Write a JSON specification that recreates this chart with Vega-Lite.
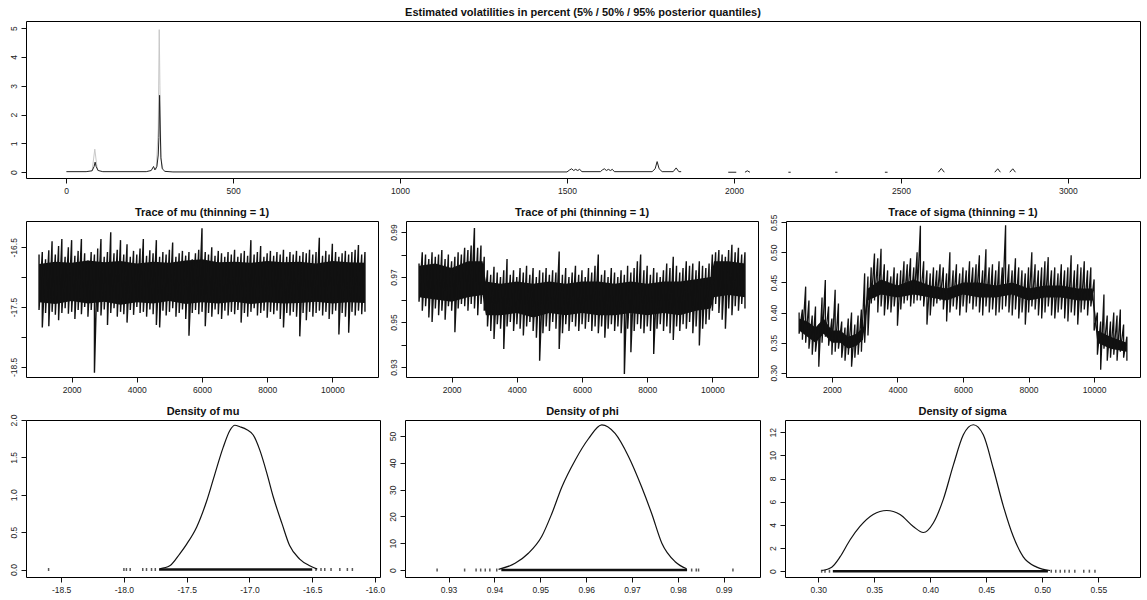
{
  "$schema": "https://vega.github.io/schema/vega-lite/v6.json",
  "padding": {"left": 8, "top": 6, "right": 4, "bottom": 4},
  "spacing": 11,
  "background": "white",
  "config": {
    "view": {"stroke": "black", "strokeWidth": 1},
    "axis": {"domain": false, "grid": false, "ticks": true, "tickColor": "#111", "tickSize": 5, "labelFont": "Liberation Sans", "labelFontSize": 8.5, "labelColor": "#222", "labelPadding": 3, "labelOverlap": false, "labelSeparation": -50},
    "axisY": {"labelAngle": -90, "labelAlign": "center", "labelBaseline": "bottom", "tickCount": 20, "labelOverlap": false},
    "title": {"font": "Liberation Sans", "fontSize": 11, "fontWeight": "bold", "color": "#111", "offset": 3}
  },
  "datasets": {
    "vol50": [
      {"t": 1, "v": 0.02, "s": 1}, {"t": 60, "v": 0.02, "s": 1}, {"t": 78, "v": 0.05, "s": 1}, {"t": 84, "v": 0.2, "s": 1}, {"t": 87, "v": 0.35, "s": 1}, {"t": 90, "v": 0.2, "s": 1}, {"t": 96, "v": 0.06, "s": 1}, {"t": 110, "v": 0.02, "s": 1}, {"t": 240, "v": 0.02, "s": 1}, {"t": 255, "v": 0.06, "s": 1}, {"t": 262, "v": 0.2, "s": 1}, {"t": 266, "v": 0.08, "s": 1}, {"t": 272, "v": 0.2, "s": 1}, {"t": 276, "v": 0.6, "s": 1}, {"t": 278, "v": 1.2, "s": 1}, {"t": 280, "v": 2.67, "s": 1}, {"t": 282, "v": 1.5, "s": 1}, {"t": 284, "v": 0.5, "s": 1}, {"t": 288, "v": 0.12, "s": 1}, {"t": 296, "v": 0.03, "s": 1}, {"t": 320, "v": 0.01, "s": 1}, {"t": 1500, "v": 0.01, "s": 1}, {"t": 1508, "v": 0.08, "s": 1}, {"t": 1514, "v": 0.12, "s": 1}, {"t": 1520, "v": 0.06, "s": 1}, {"t": 1526, "v": 0.1, "s": 1}, {"t": 1532, "v": 0.06, "s": 1}, {"t": 1538, "v": 0.1, "s": 1}, {"t": 1545, "v": 0.02, "s": 1}, {"t": 1600, "v": 0.02, "s": 1}, {"t": 1606, "v": 0.08, "s": 1}, {"t": 1612, "v": 0.12, "s": 1}, {"t": 1618, "v": 0.06, "s": 1}, {"t": 1624, "v": 0.1, "s": 1}, {"t": 1630, "v": 0.06, "s": 1}, {"t": 1636, "v": 0.1, "s": 1}, {"t": 1642, "v": 0.02, "s": 1}, {"t": 1755, "v": 0.02, "s": 1}, {"t": 1764, "v": 0.12, "s": 1}, {"t": 1770, "v": 0.37, "s": 1}, {"t": 1776, "v": 0.12, "s": 1}, {"t": 1785, "v": 0.02, "s": 1}, {"t": 1818, "v": 0.02, "s": 1}, {"t": 1827, "v": 0.15, "s": 1}, {"t": 1835, "v": 0.02, "s": 1}, {"t": 1842, "v": 0.02, "s": 1},
      {"t": 1983, "v": 0.0, "s": 2}, {"t": 2007, "v": 0.0, "s": 2},
      {"t": 2033, "v": 0.0, "s": 3}, {"t": 2040, "v": 0.05, "s": 3}, {"t": 2048, "v": 0.0, "s": 3},
      {"t": 2163, "v": 0.0, "s": 4}, {"t": 2170, "v": 0.0, "s": 4},
      {"t": 2303, "v": 0.0, "s": 5}, {"t": 2310, "v": 0.0, "s": 5},
      {"t": 2452, "v": 0.0, "s": 6}, {"t": 2460, "v": 0.0, "s": 6},
      {"t": 2612, "v": 0.0, "s": 7}, {"t": 2621, "v": 0.13, "s": 7}, {"t": 2630, "v": 0.0, "s": 7},
      {"t": 2781, "v": 0.0, "s": 8}, {"t": 2790, "v": 0.12, "s": 8}, {"t": 2798, "v": 0.0, "s": 8},
      {"t": 2826, "v": 0.0, "s": 9}, {"t": 2835, "v": 0.12, "s": 9}, {"t": 2843, "v": 0.0, "s": 9}
    ],
    "vol95": [
      {"t": 78, "v": 0.05, "s": 1}, {"t": 86, "v": 0.8, "s": 1}, {"t": 94, "v": 0.05, "s": 1},
      {"t": 270, "v": 0.1, "s": 2}, {"t": 276, "v": 1.5, "s": 2}, {"t": 279, "v": 4.95, "s": 2}, {"t": 281, "v": 3.0, "s": 2}, {"t": 284, "v": 0.5, "s": 2}, {"t": 290, "v": 0.1, "s": 2}
    ],
    "core_mu": [
      {"it": 1000, "a": -16.78, "b": -17.42}, {"it": 1500, "a": -16.74, "b": -17.45}, {"it": 2000, "a": -16.76, "b": -17.40}, {"it": 2500, "a": -16.72, "b": -17.44}, {"it": 3000, "a": -16.75, "b": -17.41}, {"it": 3500, "a": -16.73, "b": -17.46}, {"it": 4000, "a": -16.77, "b": -17.42}, {"it": 4500, "a": -16.74, "b": -17.44}, {"it": 5000, "a": -16.76, "b": -17.40}, {"it": 5500, "a": -16.72, "b": -17.45}, {"it": 6000, "a": -16.70, "b": -17.42}, {"it": 6500, "a": -16.75, "b": -17.44}, {"it": 7000, "a": -16.74, "b": -17.41}, {"it": 7500, "a": -16.76, "b": -17.45}, {"it": 8000, "a": -16.73, "b": -17.42}, {"it": 8500, "a": -16.75, "b": -17.44}, {"it": 9000, "a": -16.74, "b": -17.43}, {"it": 9500, "a": -16.77, "b": -17.41}, {"it": 10000, "a": -16.73, "b": -17.44}, {"it": 10500, "a": -16.75, "b": -17.42}, {"it": 11000, "a": -16.76, "b": -17.43}
    ],
    "core_phi": [
      {"it": 1000, "a": 0.975, "b": 0.961}, {"it": 1500, "a": 0.976, "b": 0.960}, {"it": 2000, "a": 0.974, "b": 0.959}, {"it": 2500, "a": 0.977, "b": 0.961}, {"it": 2950, "a": 0.977, "b": 0.962}, {"it": 3050, "a": 0.968, "b": 0.953}, {"it": 3500, "a": 0.967, "b": 0.953}, {"it": 4000, "a": 0.968, "b": 0.954}, {"it": 4500, "a": 0.967, "b": 0.952}, {"it": 5000, "a": 0.968, "b": 0.954}, {"it": 5500, "a": 0.967, "b": 0.953}, {"it": 6000, "a": 0.968, "b": 0.954}, {"it": 6500, "a": 0.968, "b": 0.953}, {"it": 7000, "a": 0.967, "b": 0.953}, {"it": 7500, "a": 0.968, "b": 0.954}, {"it": 8000, "a": 0.967, "b": 0.953}, {"it": 8500, "a": 0.968, "b": 0.954}, {"it": 9000, "a": 0.968, "b": 0.953}, {"it": 9500, "a": 0.969, "b": 0.955}, {"it": 9950, "a": 0.970, "b": 0.956}, {"it": 10050, "a": 0.977, "b": 0.961}, {"it": 10500, "a": 0.977, "b": 0.962}, {"it": 11000, "a": 0.976, "b": 0.961}
    ],
    "core_sigma": [
      {"it": 1000, "a": 0.39, "b": 0.37}, {"it": 1250, "a": 0.385, "b": 0.36}, {"it": 1500, "a": 0.375, "b": 0.35}, {"it": 1750, "a": 0.39, "b": 0.365}, {"it": 2000, "a": 0.37, "b": 0.35}, {"it": 2250, "a": 0.37, "b": 0.35}, {"it": 2500, "a": 0.36, "b": 0.34}, {"it": 2750, "a": 0.365, "b": 0.345}, {"it": 2950, "a": 0.375, "b": 0.355}, {"it": 3100, "a": 0.44, "b": 0.42}, {"it": 3500, "a": 0.455, "b": 0.43}, {"it": 4000, "a": 0.445, "b": 0.425}, {"it": 4500, "a": 0.455, "b": 0.43}, {"it": 5000, "a": 0.445, "b": 0.425}, {"it": 5500, "a": 0.44, "b": 0.42}, {"it": 6000, "a": 0.45, "b": 0.43}, {"it": 6500, "a": 0.45, "b": 0.425}, {"it": 7000, "a": 0.445, "b": 0.425}, {"it": 7500, "a": 0.45, "b": 0.43}, {"it": 8000, "a": 0.44, "b": 0.42}, {"it": 8500, "a": 0.445, "b": 0.425}, {"it": 9000, "a": 0.445, "b": 0.425}, {"it": 9500, "a": 0.44, "b": 0.42}, {"it": 9950, "a": 0.44, "b": 0.42}, {"it": 10100, "a": 0.37, "b": 0.35}, {"it": 10500, "a": 0.36, "b": 0.34}, {"it": 11000, "a": 0.35, "b": 0.335}
    ],
    "trace_mu": [
      {"it": 1000, "hi": -16.62, "lo": -17.55}, {"it": 1100, "hi": -16.58, "lo": -17.84}, {"it": 1200, "hi": -16.70, "lo": -17.60}, {"it": 1300, "hi": -16.55, "lo": -17.82}, {"it": 1400, "hi": -16.40, "lo": -17.58}, {"it": 1500, "hi": -16.62, "lo": -17.63}, {"it": 1600, "hi": -16.48, "lo": -17.72}, {"it": 1700, "hi": -16.36, "lo": -17.60}, {"it": 1800, "hi": -16.66, "lo": -17.52}, {"it": 1900, "hi": -16.50, "lo": -17.61},
      {"it": 2000, "hi": -16.38, "lo": -17.58}, {"it": 2100, "hi": -16.64, "lo": -17.70}, {"it": 2200, "hi": -16.56, "lo": -17.55}, {"it": 2300, "hi": -16.36, "lo": -17.62}, {"it": 2400, "hi": -16.60, "lo": -17.50}, {"it": 2500, "hi": -16.72, "lo": -17.66}, {"it": 2600, "hi": -16.58, "lo": -17.55}, {"it": 2700, "hi": -16.62, "lo": -18.60}, {"it": 2800, "hi": -16.52, "lo": -17.58}, {"it": 2900, "hi": -16.36, "lo": -17.64},
      {"it": 3000, "hi": -16.66, "lo": -17.54}, {"it": 3100, "hi": -16.58, "lo": -17.80}, {"it": 3200, "hi": -16.25, "lo": -17.60}, {"it": 3300, "hi": -16.60, "lo": -17.52}, {"it": 3400, "hi": -16.54, "lo": -17.66}, {"it": 3500, "hi": -16.38, "lo": -17.58}, {"it": 3600, "hi": -16.62, "lo": -17.62}, {"it": 3700, "hi": -16.45, "lo": -17.76}, {"it": 3800, "hi": -16.66, "lo": -17.55}, {"it": 3900, "hi": -16.56, "lo": -17.63},
      {"it": 4000, "hi": -16.62, "lo": -17.50}, {"it": 4100, "hi": -16.52, "lo": -17.60}, {"it": 4200, "hi": -16.36, "lo": -17.58}, {"it": 4300, "hi": -16.64, "lo": -17.66}, {"it": 4400, "hi": -16.55, "lo": -17.54}, {"it": 4500, "hi": -16.60, "lo": -17.62}, {"it": 4600, "hi": -16.38, "lo": -17.80}, {"it": 4700, "hi": -16.66, "lo": -17.84}, {"it": 4800, "hi": -16.58, "lo": -17.56}, {"it": 4900, "hi": -16.62, "lo": -17.64},
      {"it": 5000, "hi": -16.54, "lo": -17.58}, {"it": 5100, "hi": -16.42, "lo": -17.52}, {"it": 5200, "hi": -16.66, "lo": -17.66}, {"it": 5300, "hi": -16.60, "lo": -17.60}, {"it": 5400, "hi": -16.56, "lo": -17.54}, {"it": 5500, "hi": -16.64, "lo": -17.70}, {"it": 5600, "hi": -16.58, "lo": -17.98}, {"it": 5700, "hi": -16.70, "lo": -17.60}, {"it": 5800, "hi": -16.60, "lo": -17.55}, {"it": 5900, "hi": -16.54, "lo": -17.62},
      {"it": 6000, "hi": -16.18, "lo": -17.58}, {"it": 6100, "hi": -16.58, "lo": -17.82}, {"it": 6200, "hi": -16.62, "lo": -17.60}, {"it": 6300, "hi": -16.50, "lo": -17.66}, {"it": 6400, "hi": -16.64, "lo": -17.54}, {"it": 6500, "hi": -16.56, "lo": -17.62}, {"it": 6600, "hi": -16.60, "lo": -17.70}, {"it": 6700, "hi": -16.66, "lo": -17.56}, {"it": 6800, "hi": -16.58, "lo": -17.64}, {"it": 6900, "hi": -16.62, "lo": -17.58},
      {"it": 7000, "hi": -16.54, "lo": -17.62}, {"it": 7100, "hi": -16.66, "lo": -17.55}, {"it": 7200, "hi": -16.60, "lo": -17.76}, {"it": 7300, "hi": -16.56, "lo": -17.60}, {"it": 7400, "hi": -16.64, "lo": -17.66}, {"it": 7500, "hi": -16.38, "lo": -17.58}, {"it": 7600, "hi": -16.62, "lo": -17.52}, {"it": 7700, "hi": -16.58, "lo": -17.64}, {"it": 7800, "hi": -16.48, "lo": -17.60}, {"it": 7900, "hi": -16.66, "lo": -17.56},
      {"it": 8000, "hi": -16.60, "lo": -17.68}, {"it": 8100, "hi": -16.56, "lo": -17.58}, {"it": 8200, "hi": -16.64, "lo": -17.62}, {"it": 8300, "hi": -16.58, "lo": -17.56}, {"it": 8400, "hi": -16.62, "lo": -17.70}, {"it": 8500, "hi": -16.54, "lo": -17.84}, {"it": 8600, "hi": -16.66, "lo": -17.60}, {"it": 8700, "hi": -16.58, "lo": -17.64}, {"it": 8800, "hi": -16.62, "lo": -17.58}, {"it": 8900, "hi": -16.56, "lo": -17.66},
      {"it": 9000, "hi": -16.64, "lo": -17.99}, {"it": 9100, "hi": -16.58, "lo": -17.60}, {"it": 9200, "hi": -16.60, "lo": -17.72}, {"it": 9300, "hi": -16.54, "lo": -17.58}, {"it": 9400, "hi": -16.62, "lo": -17.66}, {"it": 9500, "hi": -16.58, "lo": -17.60}, {"it": 9600, "hi": -16.34, "lo": -17.56}, {"it": 9700, "hi": -16.64, "lo": -17.64}, {"it": 9800, "hi": -16.56, "lo": -17.58}, {"it": 9900, "hi": -16.62, "lo": -17.70},
      {"it": 10000, "hi": -16.44, "lo": -17.62}, {"it": 10100, "hi": -16.58, "lo": -17.56}, {"it": 10200, "hi": -16.66, "lo": -17.96}, {"it": 10300, "hi": -16.60, "lo": -17.60}, {"it": 10400, "hi": -16.56, "lo": -17.66}, {"it": 10500, "hi": -16.62, "lo": -17.93}, {"it": 10600, "hi": -16.58, "lo": -17.58}, {"it": 10700, "hi": -16.54, "lo": -17.64}, {"it": 10800, "hi": -16.46, "lo": -17.56}, {"it": 10900, "hi": -16.62, "lo": -17.62}, {"it": 11000, "hi": -16.58, "lo": -17.58}
    ],
    "trace_phi": [
      {"it": 1000, "hi": 0.976, "lo": 0.959}, {"it": 1100, "hi": 0.981, "lo": 0.955}, {"it": 1200, "hi": 0.980, "lo": 0.957}, {"it": 1300, "hi": 0.978, "lo": 0.952}, {"it": 1400, "hi": 0.981, "lo": 0.950}, {"it": 1500, "hi": 0.979, "lo": 0.956}, {"it": 1600, "hi": 0.980, "lo": 0.953}, {"it": 1700, "hi": 0.982, "lo": 0.955}, {"it": 1800, "hi": 0.978, "lo": 0.951}, {"it": 1900, "hi": 0.980, "lo": 0.957},
      {"it": 2000, "hi": 0.977, "lo": 0.955}, {"it": 2100, "hi": 0.979, "lo": 0.9455}, {"it": 2200, "hi": 0.981, "lo": 0.956}, {"it": 2300, "hi": 0.980, "lo": 0.958}, {"it": 2400, "hi": 0.983, "lo": 0.957}, {"it": 2500, "hi": 0.982, "lo": 0.955}, {"it": 2600, "hi": 0.984, "lo": 0.958}, {"it": 2700, "hi": 0.9918, "lo": 0.956}, {"it": 2800, "hi": 0.983, "lo": 0.953}, {"it": 2900, "hi": 0.984, "lo": 0.958},
      {"it": 3000, "hi": 0.979, "lo": 0.955}, {"it": 3100, "hi": 0.973, "lo": 0.948}, {"it": 3200, "hi": 0.971, "lo": 0.946}, {"it": 3300, "hi": 0.9746, "lo": 0.9425}, {"it": 3400, "hi": 0.972, "lo": 0.949}, {"it": 3500, "hi": 0.970, "lo": 0.947}, {"it": 3600, "hi": 0.973, "lo": 0.938}, {"it": 3700, "hi": 0.978, "lo": 0.948}, {"it": 3800, "hi": 0.971, "lo": 0.950}, {"it": 3900, "hi": 0.973, "lo": 0.946},
      {"it": 4000, "hi": 0.970, "lo": 0.949}, {"it": 4100, "hi": 0.974, "lo": 0.947}, {"it": 4200, "hi": 0.972, "lo": 0.944}, {"it": 4300, "hi": 0.975, "lo": 0.948}, {"it": 4400, "hi": 0.971, "lo": 0.950}, {"it": 4500, "hi": 0.974, "lo": 0.946}, {"it": 4600, "hi": 0.970, "lo": 0.943}, {"it": 4700, "hi": 0.973, "lo": 0.9328}, {"it": 4800, "hi": 0.972, "lo": 0.945}, {"it": 4900, "hi": 0.974, "lo": 0.948},
      {"it": 5000, "hi": 0.971, "lo": 0.946}, {"it": 5100, "hi": 0.973, "lo": 0.950}, {"it": 5200, "hi": 0.972, "lo": 0.947}, {"it": 5300, "hi": 0.9813, "lo": 0.938}, {"it": 5400, "hi": 0.971, "lo": 0.945}, {"it": 5500, "hi": 0.974, "lo": 0.949}, {"it": 5600, "hi": 0.970, "lo": 0.946}, {"it": 5700, "hi": 0.972, "lo": 0.950}, {"it": 5800, "hi": 0.975, "lo": 0.948}, {"it": 5900, "hi": 0.971, "lo": 0.946},
      {"it": 6000, "hi": 0.973, "lo": 0.949}, {"it": 6100, "hi": 0.970, "lo": 0.947}, {"it": 6200, "hi": 0.974, "lo": 0.950}, {"it": 6300, "hi": 0.972, "lo": 0.946}, {"it": 6400, "hi": 0.975, "lo": 0.948}, {"it": 6500, "hi": 0.980, "lo": 0.945}, {"it": 6600, "hi": 0.971, "lo": 0.948}, {"it": 6700, "hi": 0.973, "lo": 0.943}, {"it": 6800, "hi": 0.970, "lo": 0.947}, {"it": 6900, "hi": 0.974, "lo": 0.949},
      {"it": 7000, "hi": 0.972, "lo": 0.946}, {"it": 7100, "hi": 0.970, "lo": 0.948}, {"it": 7200, "hi": 0.973, "lo": 0.945}, {"it": 7300, "hi": 0.971, "lo": 0.9269}, {"it": 7400, "hi": 0.975, "lo": 0.947}, {"it": 7500, "hi": 0.972, "lo": 0.9366}, {"it": 7600, "hi": 0.974, "lo": 0.946}, {"it": 7700, "hi": 0.977, "lo": 0.949}, {"it": 7800, "hi": 0.980, "lo": 0.947}, {"it": 7900, "hi": 0.973, "lo": 0.945},
      {"it": 8000, "hi": 0.975, "lo": 0.948}, {"it": 8100, "hi": 0.971, "lo": 0.946}, {"it": 8200, "hi": 0.974, "lo": 0.9358}, {"it": 8300, "hi": 0.972, "lo": 0.947}, {"it": 8400, "hi": 0.970, "lo": 0.949}, {"it": 8500, "hi": 0.973, "lo": 0.946}, {"it": 8600, "hi": 0.976, "lo": 0.948}, {"it": 8700, "hi": 0.974, "lo": 0.945}, {"it": 8800, "hi": 0.979, "lo": 0.942}, {"it": 8900, "hi": 0.975, "lo": 0.948},
      {"it": 9000, "hi": 0.972, "lo": 0.946}, {"it": 9100, "hi": 0.974, "lo": 0.949}, {"it": 9200, "hi": 0.977, "lo": 0.947}, {"it": 9300, "hi": 0.975, "lo": 0.950}, {"it": 9400, "hi": 0.976, "lo": 0.945}, {"it": 9500, "hi": 0.973, "lo": 0.948}, {"it": 9600, "hi": 0.977, "lo": 0.9396}, {"it": 9700, "hi": 0.975, "lo": 0.947}, {"it": 9800, "hi": 0.974, "lo": 0.949}, {"it": 9900, "hi": 0.976, "lo": 0.951},
      {"it": 10000, "hi": 0.980, "lo": 0.955}, {"it": 10100, "hi": 0.981, "lo": 0.958}, {"it": 10200, "hi": 0.982, "lo": 0.954}, {"it": 10300, "hi": 0.980, "lo": 0.951}, {"it": 10400, "hi": 0.979, "lo": 0.947}, {"it": 10500, "hi": 0.982, "lo": 0.956}, {"it": 10600, "hi": 0.9843, "lo": 0.953}, {"it": 10700, "hi": 0.981, "lo": 0.957}, {"it": 10800, "hi": 0.983, "lo": 0.955}, {"it": 10900, "hi": 0.980, "lo": 0.958}, {"it": 11000, "hi": 0.981, "lo": 0.956}
    ],
    "trace_sigma": [
      {"it": 1000, "hi": 0.400, "lo": 0.365}, {"it": 1100, "hi": 0.405, "lo": 0.355}, {"it": 1200, "hi": 0.443, "lo": 0.350}, {"it": 1300, "hi": 0.420, "lo": 0.340}, {"it": 1400, "hi": 0.395, "lo": 0.330}, {"it": 1500, "hi": 0.410, "lo": 0.335}, {"it": 1600, "hi": 0.380, "lo": 0.310}, {"it": 1700, "hi": 0.425, "lo": 0.350}, {"it": 1800, "hi": 0.454, "lo": 0.360}, {"it": 1900, "hi": 0.410, "lo": 0.345},
      {"it": 2000, "hi": 0.390, "lo": 0.330}, {"it": 2100, "hi": 0.438, "lo": 0.335}, {"it": 2200, "hi": 0.415, "lo": 0.340}, {"it": 2300, "hi": 0.385, "lo": 0.325}, {"it": 2400, "hi": 0.375, "lo": 0.320}, {"it": 2500, "hi": 0.390, "lo": 0.330}, {"it": 2600, "hi": 0.400, "lo": 0.310}, {"it": 2700, "hi": 0.380, "lo": 0.325}, {"it": 2800, "hi": 0.395, "lo": 0.330}, {"it": 2900, "hi": 0.405, "lo": 0.335},
      {"it": 3000, "hi": 0.465, "lo": 0.350}, {"it": 3100, "hi": 0.460, "lo": 0.362}, {"it": 3200, "hi": 0.475, "lo": 0.415}, {"it": 3300, "hi": 0.498, "lo": 0.420}, {"it": 3400, "hi": 0.490, "lo": 0.400}, {"it": 3500, "hi": 0.506, "lo": 0.410}, {"it": 3600, "hi": 0.480, "lo": 0.395}, {"it": 3700, "hi": 0.470, "lo": 0.405}, {"it": 3800, "hi": 0.460, "lo": 0.400}, {"it": 3900, "hi": 0.475, "lo": 0.410},
      {"it": 4000, "hi": 0.465, "lo": 0.378}, {"it": 4100, "hi": 0.470, "lo": 0.405}, {"it": 4200, "hi": 0.485, "lo": 0.415}, {"it": 4300, "hi": 0.480, "lo": 0.420}, {"it": 4400, "hi": 0.490, "lo": 0.410}, {"it": 4500, "hi": 0.475, "lo": 0.415}, {"it": 4600, "hi": 0.500, "lo": 0.420}, {"it": 4700, "hi": 0.544, "lo": 0.420}, {"it": 4800, "hi": 0.485, "lo": 0.410}, {"it": 4900, "hi": 0.470, "lo": 0.380},
      {"it": 5000, "hi": 0.465, "lo": 0.395}, {"it": 5100, "hi": 0.475, "lo": 0.410}, {"it": 5200, "hi": 0.470, "lo": 0.415}, {"it": 5300, "hi": 0.480, "lo": 0.420}, {"it": 5400, "hi": 0.475, "lo": 0.405}, {"it": 5500, "hi": 0.465, "lo": 0.385}, {"it": 5600, "hi": 0.500, "lo": 0.400}, {"it": 5700, "hi": 0.470, "lo": 0.410}, {"it": 5800, "hi": 0.480, "lo": 0.405}, {"it": 5900, "hi": 0.465, "lo": 0.395},
      {"it": 6000, "hi": 0.475, "lo": 0.410}, {"it": 6100, "hi": 0.470, "lo": 0.400}, {"it": 6200, "hi": 0.485, "lo": 0.415}, {"it": 6300, "hi": 0.475, "lo": 0.405}, {"it": 6400, "hi": 0.480, "lo": 0.410}, {"it": 6500, "hi": 0.495, "lo": 0.400}, {"it": 6600, "hi": 0.470, "lo": 0.395}, {"it": 6700, "hi": 0.505, "lo": 0.410}, {"it": 6800, "hi": 0.475, "lo": 0.400}, {"it": 6900, "hi": 0.480, "lo": 0.405},
      {"it": 7000, "hi": 0.470, "lo": 0.395}, {"it": 7100, "hi": 0.485, "lo": 0.400}, {"it": 7200, "hi": 0.475, "lo": 0.405}, {"it": 7300, "hi": 0.545, "lo": 0.410}, {"it": 7400, "hi": 0.480, "lo": 0.400}, {"it": 7500, "hi": 0.470, "lo": 0.395}, {"it": 7600, "hi": 0.490, "lo": 0.405}, {"it": 7700, "hi": 0.475, "lo": 0.390}, {"it": 7800, "hi": 0.470, "lo": 0.400}, {"it": 7900, "hi": 0.465, "lo": 0.380},
      {"it": 8000, "hi": 0.475, "lo": 0.400}, {"it": 8100, "hi": 0.500, "lo": 0.410}, {"it": 8200, "hi": 0.480, "lo": 0.405}, {"it": 8300, "hi": 0.470, "lo": 0.395}, {"it": 8400, "hi": 0.475, "lo": 0.390}, {"it": 8500, "hi": 0.485, "lo": 0.400}, {"it": 8600, "hi": 0.492, "lo": 0.410}, {"it": 8700, "hi": 0.470, "lo": 0.395}, {"it": 8800, "hi": 0.475, "lo": 0.390}, {"it": 8900, "hi": 0.465, "lo": 0.400},
      {"it": 9000, "hi": 0.480, "lo": 0.405}, {"it": 9100, "hi": 0.470, "lo": 0.390}, {"it": 9200, "hi": 0.475, "lo": 0.385}, {"it": 9300, "hi": 0.495, "lo": 0.400}, {"it": 9400, "hi": 0.470, "lo": 0.395}, {"it": 9500, "hi": 0.480, "lo": 0.380}, {"it": 9600, "hi": 0.475, "lo": 0.400}, {"it": 9700, "hi": 0.485, "lo": 0.405}, {"it": 9800, "hi": 0.470, "lo": 0.395}, {"it": 9900, "hi": 0.475, "lo": 0.410},
      {"it": 10000, "hi": 0.455, "lo": 0.370}, {"it": 10100, "hi": 0.400, "lo": 0.330}, {"it": 10200, "hi": 0.385, "lo": 0.305}, {"it": 10300, "hi": 0.430, "lo": 0.340}, {"it": 10400, "hi": 0.395, "lo": 0.320}, {"it": 10500, "hi": 0.385, "lo": 0.325}, {"it": 10600, "hi": 0.400, "lo": 0.330}, {"it": 10700, "hi": 0.395, "lo": 0.320}, {"it": 10800, "hi": 0.405, "lo": 0.335}, {"it": 10900, "hi": 0.380, "lo": 0.325}, {"it": 11000, "hi": 0.360, "lo": 0.320}
    ],
    "dens_mu": [
      {"x": -17.715, "d": 0.01}, {"x": -17.635, "d": 0.05}, {"x": -17.555, "d": 0.21}, {"x": -17.50, "d": 0.34}, {"x": -17.42, "d": 0.57}, {"x": -17.34, "d": 0.92}, {"x": -17.275, "d": 1.28}, {"x": -17.21, "d": 1.63}, {"x": -17.156, "d": 1.86}, {"x": -17.116, "d": 1.93}, {"x": -17.076, "d": 1.91}, {"x": -17.02, "d": 1.87}, {"x": -16.97, "d": 1.80}, {"x": -16.916, "d": 1.59}, {"x": -16.86, "d": 1.28}, {"x": -16.81, "d": 0.97}, {"x": -16.74, "d": 0.61}, {"x": -16.68, "d": 0.32}, {"x": -16.60, "d": 0.14}, {"x": -16.52, "d": 0.05}, {"x": -16.46, "d": 0.005}
    ],
    "dens_phi": [
      {"x": 0.9409, "d": 0.25}, {"x": 0.9445, "d": 2.5}, {"x": 0.9474, "d": 6.25}, {"x": 0.9503, "d": 12.5}, {"x": 0.9525, "d": 21}, {"x": 0.9547, "d": 31}, {"x": 0.9576, "d": 41}, {"x": 0.9605, "d": 49}, {"x": 0.9634, "d": 54.2}, {"x": 0.9663, "d": 51}, {"x": 0.9692, "d": 42.5}, {"x": 0.9721, "d": 31}, {"x": 0.9743, "d": 21}, {"x": 0.9765, "d": 10}, {"x": 0.9794, "d": 3.1}, {"x": 0.9819, "d": 0.5}
    ],
    "dens_sigma": [
      {"x": 0.303, "d": 0.06}, {"x": 0.312, "d": 0.35}, {"x": 0.3194, "d": 1.23}, {"x": 0.3283, "d": 2.69}, {"x": 0.3372, "d": 3.86}, {"x": 0.349, "d": 4.89}, {"x": 0.3611, "d": 5.24}, {"x": 0.373, "d": 4.89}, {"x": 0.3848, "d": 3.86}, {"x": 0.3938, "d": 3.34}, {"x": 0.4027, "d": 4.16}, {"x": 0.4116, "d": 6.2}, {"x": 0.4205, "d": 9.13}, {"x": 0.4295, "d": 11.77}, {"x": 0.4384, "d": 12.64}, {"x": 0.4473, "d": 11.77}, {"x": 0.4563, "d": 8.84}, {"x": 0.4652, "d": 5.62}, {"x": 0.4741, "d": 2.99}, {"x": 0.483, "d": 1.23}, {"x": 0.495, "d": 0.35}, {"x": 0.5069, "d": 0.06}
    ],
    "rugd_mu": [{"lo": -17.72, "hi": -16.5}],
    "rugd_phi": [{"lo": 0.9415, "hi": 0.982}],
    "rugd_sigma": [{"lo": 0.313, "hi": 0.505}],
    "rug_mu": [{"x": -18.6}, {"x": -18.0}, {"x": -17.98}, {"x": -17.95}, {"x": -17.85}, {"x": -17.82}, {"x": -17.78}, {"x": -17.75}, {"x": -16.47}, {"x": -16.43}, {"x": -16.40}, {"x": -16.35}, {"x": -16.28}, {"x": -16.22}, {"x": -16.18}],
    "rug_phi": [{"x": 0.9275}, {"x": 0.9335}, {"x": 0.936}, {"x": 0.937}, {"x": 0.938}, {"x": 0.939}, {"x": 0.9405}, {"x": 0.983}, {"x": 0.984}, {"x": 0.9845}, {"x": 0.992}],
    "rug_sigma": [{"x": 0.303}, {"x": 0.306}, {"x": 0.31}, {"x": 0.508}, {"x": 0.512}, {"x": 0.516}, {"x": 0.52}, {"x": 0.524}, {"x": 0.529}, {"x": 0.537}, {"x": 0.542}, {"x": 0.547}]
  },
  "vconcat": [
    {
      "width": 1114, "height": 157,
      "title": "Estimated volatilities in percent (5% / 50% / 95% posterior quantiles)",
      "layer": [
        {"data": {"name": "vol95"}, "mark": {"type": "line", "color": "#c8c8c8", "strokeWidth": 1},
         "encoding": {"x": {"field": "t", "type": "quantitative", "scale": {"domain": [-120, 3216], "nice": false, "zero": false}, "axis": {"values": [0, 500, 1000, 1500, 2000, 2500, 3000], "format": "d", "labelOverlap": false, "title": null}},
                      "y": {"field": "v", "type": "quantitative", "scale": {"domain": [-0.2, 5.25], "nice": false, "zero": false}, "axis": {"values": [0, 1, 2, 3, 4, 5], "format": "d", "labelOverlap": false, "tickCount": 20, "title": null}},
                      "detail": {"field": "s"}}},
        {"data": {"name": "vol50"}, "mark": {"type": "line", "color": "#222", "strokeWidth": 1},
         "encoding": {"x": {"field": "t", "type": "quantitative"}, "y": {"field": "v", "type": "quantitative"}, "detail": {"field": "s"}}}
      ]
    },
    {
      "bounds": "flush",
      "spacing": 28,
      "hconcat": [
        {
          "width": 352, "height": 156, "title": "Trace of mu (thinning = 1)",
          "layer": [
            {"data": {"name": "core_mu"}, "mark": {"type": "area", "color": "#111", "opacity": 1},
             "encoding": {"x": {"field": "it", "type": "quantitative", "scale": {"domain": [600, 11400], "nice": false, "zero": false}, "axis": {"values": [2000, 4000, 6000, 8000, 10000], "format": "d", "labelOverlap": false, "title": null}},
                          "y": {"field": "a", "type": "quantitative", "scale": {"domain": [-18.67, -16.06], "nice": false, "zero": false}, "axis": {"values": [-18.5, -18, -17.5, -17, -16.5], "title": null, "labelOverlap": false, "labelExpr": "datum.value == -17 || datum.value == -18 ? '' : replace(format(datum.value, '.1f'), '\u2212', '-')"}},
                          "y2": {"field": "b"}}},
            {"data": {"name": "trace_mu"}, "transform": [{"fold": ["hi", "lo"], "as": ["k", "v"]}],
             "mark": {"type": "line", "color": "#111", "strokeWidth": 1.4},
             "encoding": {"x": {"field": "it", "type": "quantitative"}, "y": {"field": "v", "type": "quantitative"},
                          "order": [{"field": "it", "type": "quantitative"}, {"field": "k", "type": "nominal"}]}},
            {"mark": {"type": "rule", "color": "#9a9a9a", "strokeWidth": 1}, "encoding": {"y": {"datum": -17.15}}}
          ]
        },
        {
          "width": 352, "height": 156, "title": "Trace of phi (thinning = 1)",
          "layer": [
            {"data": {"name": "core_phi"}, "mark": {"type": "area", "color": "#111", "opacity": 1},
             "encoding": {"x": {"field": "it", "type": "quantitative", "scale": {"domain": [600, 11400], "nice": false, "zero": false}, "axis": {"values": [2000, 4000, 6000, 8000, 10000], "format": "d", "labelOverlap": false, "title": null}},
                          "y": {"field": "a", "type": "quantitative", "scale": {"domain": [0.9256, 0.9949], "nice": false, "zero": false}, "axis": {"values": [0.93, 0.94, 0.95, 0.96, 0.97, 0.98, 0.99], "title": null, "labelOverlap": false, "labelExpr": "abs(datum.value - 0.94) < 0.001 || abs(datum.value - 0.96) < 0.001 || abs(datum.value - 0.98) < 0.001 ? '' : format(datum.value, '.2f')"}},
                          "y2": {"field": "b"}}},
            {"data": {"name": "trace_phi"}, "transform": [{"fold": ["hi", "lo"], "as": ["k", "v"]}],
             "mark": {"type": "line", "color": "#111", "strokeWidth": 1.4},
             "encoding": {"x": {"field": "it", "type": "quantitative"}, "y": {"field": "v", "type": "quantitative"},
                          "order": [{"field": "it", "type": "quantitative"}, {"field": "k", "type": "nominal"}]}},
            {"mark": {"type": "rule", "color": "#9a9a9a", "strokeWidth": 1}, "encoding": {"y": {"datum": 0.966}}}
          ]
        },
        {
          "width": 354, "height": 156, "title": {"text": "Trace of sigma (thinning = 1)", "offset": -4},
          "layer": [
            {"data": {"name": "core_sigma"}, "mark": {"type": "area", "color": "#111", "opacity": 1},
             "encoding": {"x": {"field": "it", "type": "quantitative", "scale": {"domain": [600, 11400], "nice": false, "zero": false}, "axis": {"values": [2000, 4000, 6000, 8000, 10000], "format": "d", "labelOverlap": false, "title": null}},
                          "y": {"field": "a", "type": "quantitative", "scale": {"domain": [0.293, 0.552], "nice": false, "zero": false}, "axis": {"values": [0.30, 0.35, 0.40, 0.45, 0.50, 0.55], "title": null, "labelOverlap": false, "tickCount": 20, "format": ".2f"}},
                          "y2": {"field": "b"}}},
            {"data": {"name": "trace_sigma"}, "transform": [{"fold": ["hi", "lo"], "as": ["k", "v"]}],
             "mark": {"type": "line", "color": "#111", "strokeWidth": 1.3},
             "encoding": {"x": {"field": "it", "type": "quantitative"}, "y": {"field": "v", "type": "quantitative"},
                          "order": [{"field": "it", "type": "quantitative"}, {"field": "k", "type": "nominal"}]}},
            {"mark": {"type": "rule", "color": "#c4c4c4", "strokeWidth": 1}, "encoding": {"y": {"datum": 0.45}}}
          ]
        }
      ]
    },
    {
      "bounds": "flush",
      "spacing": 25,
      "hconcat": [
        {
          "width": 354, "height": 157, "title": {"text": "Density of mu", "offset": -3},
          "layer": [
            {"mark": {"type": "rule", "color": "#eeeeee", "strokeWidth": 1}, "encoding": {"y": {"datum": 0.787, "type": "quantitative", "scale": {"domain": [-0.1, 2.0], "nice": false, "zero": false}, "axis": {"values": [0, 0.5, 1, 1.5, 2], "format": ".1f", "labelOverlap": false, "tickCount": 20, "title": null}}}},
            {"mark": {"type": "rule", "color": "#aaaaaa", "strokeWidth": 1, "strokeDash": [2, 3]}, "encoding": {"y": {"datum": 0}}},
            {"data": {"name": "dens_mu"}, "mark": {"type": "line", "color": "#111", "strokeWidth": 1.2, "interpolate": "monotone"},
             "encoding": {"x": {"field": "x", "type": "quantitative", "scale": {"domain": [-18.78, -15.96], "nice": false, "zero": false}, "axis": {"values": [-18.5, -18, -17.5, -17, -16.5, -16], "title": null, "labelOverlap": false, "labelExpr": "replace(format(datum.value, '.1f'), '\u2212', '-')"}},
                          "y": {"field": "d", "type": "quantitative"}}},
            {"data": {"name": "rugd_mu"}, "mark": {"type": "rule", "color": "#111", "strokeWidth": 2.5},
             "encoding": {"x": {"field": "lo", "type": "quantitative"}, "x2": {"field": "hi"}, "y": {"datum": 0}}},
            {"data": {"name": "rug_mu"}, "mark": {"type": "tick", "color": "#111", "orient": "vertical", "size": 3, "thickness": 1.5},
             "encoding": {"x": {"field": "x", "type": "quantitative"}, "y": {"datum": 0}}}
          ]
        },
        {
          "width": 355, "height": 157, "title": "Density of phi",
          "layer": [
            {"mark": {"type": "rule", "color": "#eeeeee", "strokeWidth": 1}, "encoding": {"y": {"datum": 22.5, "type": "quantitative", "scale": {"domain": [-2.6, 56], "nice": false, "zero": false}, "axis": {"values": [0, 10, 20, 30, 40, 50], "format": "d", "labelOverlap": false, "tickCount": 20, "title": null}}}},
            {"mark": {"type": "rule", "color": "#aaaaaa", "strokeWidth": 1, "strokeDash": [2, 3]}, "encoding": {"y": {"datum": 0}}},
            {"data": {"name": "dens_phi"}, "mark": {"type": "line", "color": "#111", "strokeWidth": 1.2, "interpolate": "monotone"},
             "encoding": {"x": {"field": "x", "type": "quantitative", "scale": {"domain": [0.9205, 0.9979], "nice": false, "zero": false}, "axis": {"values": [0.93, 0.94, 0.95, 0.96, 0.97, 0.98, 0.99], "format": ".2f", "labelOverlap": false, "title": null}},
                          "y": {"field": "d", "type": "quantitative"}}},
            {"data": {"name": "rugd_phi"}, "mark": {"type": "rule", "color": "#111", "strokeWidth": 2.5},
             "encoding": {"x": {"field": "lo", "type": "quantitative"}, "x2": {"field": "hi"}, "y": {"datum": 0}}},
            {"data": {"name": "rug_phi"}, "mark": {"type": "tick", "color": "#111", "orient": "vertical", "size": 3, "thickness": 1.5},
             "encoding": {"x": {"field": "x", "type": "quantitative"}, "y": {"datum": 0}}}
          ]
        },
        {
          "width": 355, "height": 157, "title": "Density of sigma",
          "layer": [
            {"mark": {"type": "rule", "color": "#eeeeee", "strokeWidth": 1}, "encoding": {"y": {"datum": 5.35, "type": "quantitative", "scale": {"domain": [-0.5, 13.05], "nice": false, "zero": false}, "axis": {"values": [0, 2, 4, 6, 8, 10, 12], "format": "d", "labelOverlap": false, "tickCount": 20, "title": null}}}},
            {"mark": {"type": "rule", "color": "#aaaaaa", "strokeWidth": 1, "strokeDash": [2, 3]}, "encoding": {"y": {"datum": 0}}},
            {"data": {"name": "dens_sigma"}, "mark": {"type": "line", "color": "#111", "strokeWidth": 1.2, "interpolate": "monotone"},
             "encoding": {"x": {"field": "x", "type": "quantitative", "scale": {"domain": [0.2703, 0.5872], "nice": false, "zero": false}, "axis": {"values": [0.30, 0.35, 0.40, 0.45, 0.50, 0.55], "format": ".2f", "labelOverlap": false, "title": null}},
                          "y": {"field": "d", "type": "quantitative"}}},
            {"data": {"name": "rugd_sigma"}, "mark": {"type": "rule", "color": "#111", "strokeWidth": 2.5},
             "encoding": {"x": {"field": "lo", "type": "quantitative"}, "x2": {"field": "hi"}, "y": {"datum": 0}}},
            {"data": {"name": "rug_sigma"}, "mark": {"type": "tick", "color": "#111", "orient": "vertical", "size": 3, "thickness": 1.5},
             "encoding": {"x": {"field": "x", "type": "quantitative"}, "y": {"datum": 0}}}
          ]
        }
      ]
    }
  ]
}
